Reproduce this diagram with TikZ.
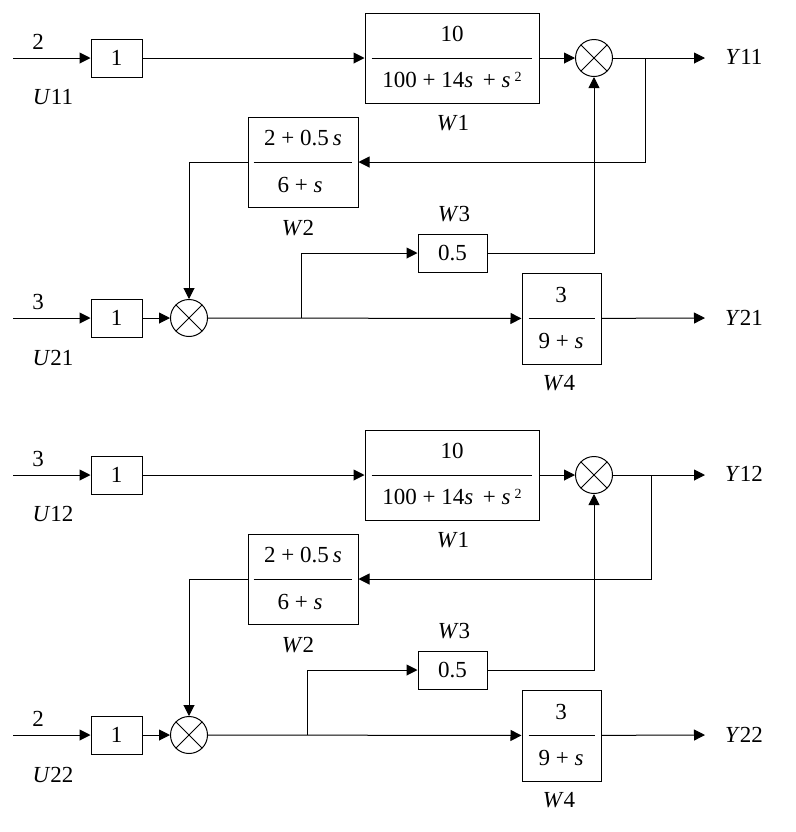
\documentclass[tikz,border=0pt]{standalone}
\usepackage{fontspec}
\setmainfont{Liberation Serif}
\usetikzlibrary{arrows.meta}

\tikzset{
  blk/.style={draw,inner sep=0pt},
  sum/.style={draw,circle,minimum size=18.5pt,inner sep=0pt,
    path picture={\draw (path picture bounding box.north west)--(path picture bounding box.south east)
      (path picture bounding box.north east)--(path picture bounding box.south west);}},
  arr/.style={-{Triangle[length=5.5pt,width=5.5pt]}},
  every node/.style={font=\fontsize{11.5}{13}\selectfont}
}

\begin{document}
\begin{tikzpicture}[x=0.5pt,y=-0.5pt,line width=0.5pt]
\useasboundingbox (0,0) rectangle (796,832);

% first system
\node[blk,minimum width=25.5pt,minimum height=19pt] (k1a) at (116.5,58) {1};
\node[blk,minimum width=87pt,minimum height=45pt] (w1a) at (452,58) {};
\node (w1an) at (452,34) {10};
\node (w1ad) at (452,80) {100 + 14\textit{s}\, + \textit{s}\,\raisebox{3pt}{\scriptsize 2}};
\draw ([xshift=3.5pt]w1a.west) -- ([xshift=-4pt]w1a.east);
\node (w1al) at (453,123) {\textit{W}1};
\node[sum] (s1a) at (594,58) {};
\node[blk,minimum width=55pt,minimum height=45pt] (w2a) at (303,162) {};
\node (w2an) at (303,138) {2 + 0.5\,\textit{s}};
\node (w2ad) at (300,185) {6 + \textit{s}};
\draw ([xshift=3pt]w2a.west) -- ([xshift=-3.5pt]w2a.east);
\node (w2al) at (298,228) {\textit{W}2};
\node[blk,minimum width=25.5pt,minimum height=19pt] (k2a) at (116.5,318) {1};
\node[sum] (s2a) at (189,318) {};
\node[blk,minimum width=34.5pt,minimum height=19pt] (w3a) at (452.5,253) {0.5};
\node (w3al) at (454,214) {\textit{W}3};
\node[blk,minimum width=39.5pt,minimum height=45.5pt] (w4a) at (561.5,318.5) {};
\node (w4an) at (561,295) {3};
\node (w4ad) at (561,341) {9 + \textit{s}};
\draw ([xshift=3.5pt]w4a.west) -- ([xshift=-3.5pt]w4a.east);
\node (w4al) at (559,383) {\textit{W}4};

\node (u1a) at (38,42) {2};
\node (u1al) at (53,97) {\textit{U}11};
\node (u2a) at (38,302) {3};
\node (u2al) at (53,358) {\textit{U}21};
\node (y1al) at (744,57) {\textit{Y}11};
\node (y2al) at (744,318) {\textit{Y}21};

\coordinate (in1a) at (13,58);
\coordinate (in2a) at (13,318);
\coordinate (out1a) at (705,58);
\coordinate (out2a) at (705,318);
\coordinate (b1a) at (645,58);
\coordinate (b2a) at (301,318);

\draw[arr] (in1a) -- (k1a);
\draw[arr] (k1a) -- (w1a);
\draw[arr] (w1a) -- (s1a);
\draw[arr] (s1a) -- (out1a);
\draw[arr] (b1a) |- (w2a);
\draw[arr] (w2a) -| (s2a);
\draw[arr] (in2a) -- (k2a);
\draw[arr] (k2a) -- (s2a);
\draw[arr] (s2a) -- (w4a);
\draw[arr] (b2a) |- (w3a);
\draw[arr] (w3a) -| (s1a);
\draw[arr] (w4a) -- (out2a);

% second system
\node[blk,minimum width=25.5pt,minimum height=19pt] (k1b) at (116.5,475) {1};
\node[blk,minimum width=87pt,minimum height=45pt] (w1b) at (452,475) {};
\node (w1bn) at (452,451) {10};
\node (w1bd) at (452,497) {100 + 14\textit{s}\, + \textit{s}\,\raisebox{3pt}{\scriptsize 2}};
\draw ([xshift=3.5pt]w1b.west) -- ([xshift=-4pt]w1b.east);
\node (w1bl) at (453,540) {\textit{W}1};
\node[sum] (s1b) at (594,475) {};
\node[blk,minimum width=55pt,minimum height=45pt] (w2b) at (303,579) {};
\node (w2bn) at (303,555) {2 + 0.5\,\textit{s}};
\node (w2bd) at (300,602) {6 + \textit{s}};
\draw ([xshift=3pt]w2b.west) -- ([xshift=-3.5pt]w2b.east);
\node (w2bl) at (298,645) {\textit{W}2};
\node[blk,minimum width=25.5pt,minimum height=19pt] (k2b) at (116.5,735) {1};
\node[sum] (s2b) at (189,735) {};
\node[blk,minimum width=34.5pt,minimum height=19pt] (w3b) at (452.5,670) {0.5};
\node (w3bl) at (454,631) {\textit{W}3};
\node[blk,minimum width=39.5pt,minimum height=45.5pt] (w4b) at (561.5,735.5) {};
\node (w4bn) at (561,712) {3};
\node (w4bd) at (561,758) {9 + \textit{s}};
\draw ([xshift=3.5pt]w4b.west) -- ([xshift=-3.5pt]w4b.east);
\node (w4bl) at (559,800) {\textit{W}4};

\node (u1b) at (38,459) {3};
\node (u1bl) at (53,514) {\textit{U}12};
\node (u2b) at (38,719) {2};
\node (u2bl) at (53,775) {\textit{U}22};
\node (y1bl) at (744,474) {\textit{Y}12};
\node (y2bl) at (744,735) {\textit{Y}22};

\coordinate (in1b) at (13,475);
\coordinate (in2b) at (13,735);
\coordinate (out1b) at (705,475);
\coordinate (out2b) at (705,735);
\coordinate (b1b) at (651,475);
\coordinate (b2b) at (307,735);

\draw[arr] (in1b) -- (k1b);
\draw[arr] (k1b) -- (w1b);
\draw[arr] (w1b) -- (s1b);
\draw[arr] (s1b) -- (out1b);
\draw[arr] (b1b) |- (w2b);
\draw[arr] (w2b) -| (s2b);
\draw[arr] (in2b) -- (k2b);
\draw[arr] (k2b) -- (s2b);
\draw[arr] (s2b) -- (w4b);
\draw[arr] (b2b) |- (w3b);
\draw[arr] (w3b) -| (s1b);
\draw[arr] (w4b) -- (out2b);
\end{tikzpicture}
\end{document}
